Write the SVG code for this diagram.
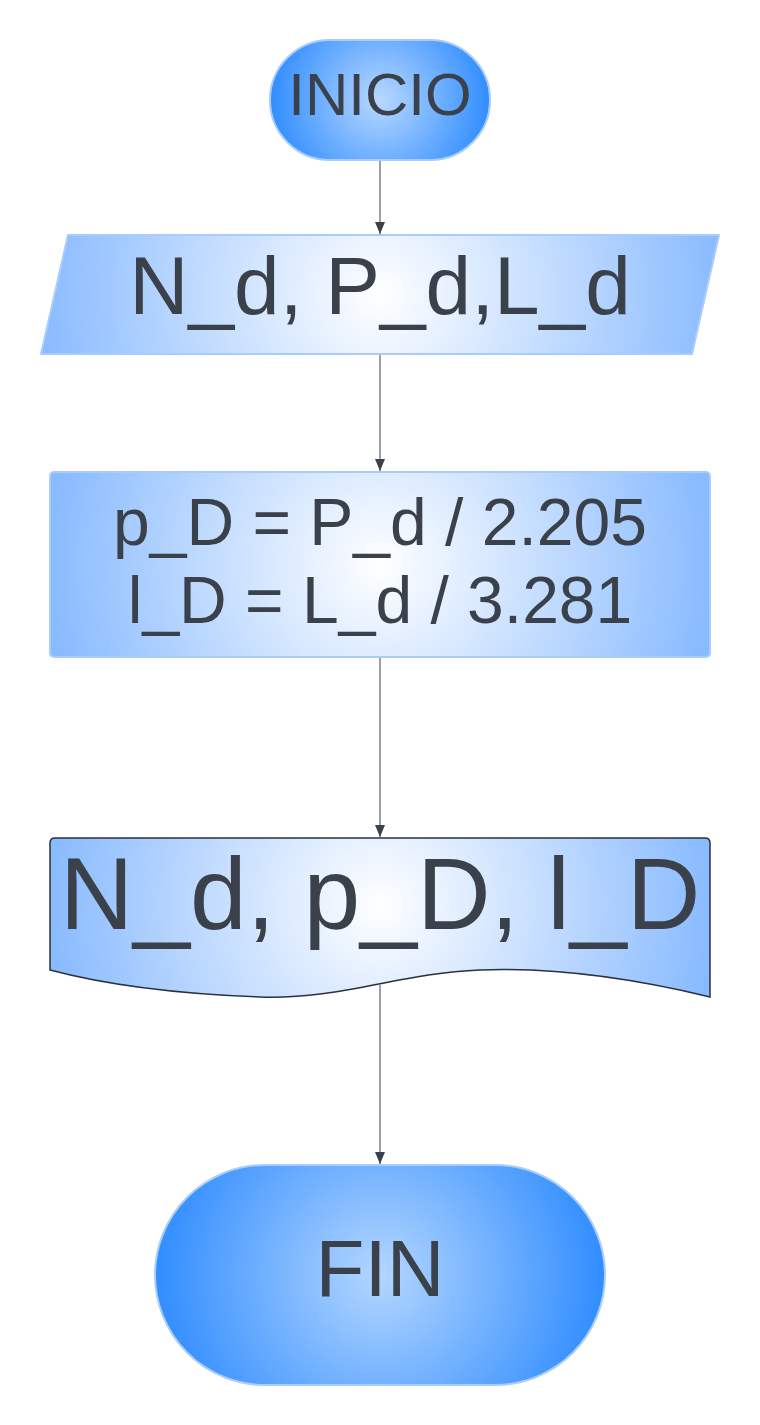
<svg xmlns="http://www.w3.org/2000/svg" width="760" height="1425" viewBox="0 0 760 1425">
<defs>
<radialGradient id="gInicio" gradientUnits="userSpaceOnUse" cx="380" cy="100" r="112">
<stop offset="0" stop-color="#b8d8ff"/>
<stop offset="1" stop-color="#2f8cff"/>
</radialGradient>
<radialGradient id="gFin" gradientUnits="userSpaceOnUse" cx="380" cy="1275" r="228">
<stop offset="0" stop-color="#b4d6ff"/>
<stop offset="1" stop-color="#2f8cff"/>
</radialGradient>
<radialGradient id="gIn" gradientUnits="userSpaceOnUse" cx="380" cy="295" r="345">
<stop offset="0" stop-color="#ffffff"/>
<stop offset="1" stop-color="#88baff"/>
</radialGradient>
<radialGradient id="gProc" gradientUnits="userSpaceOnUse" cx="380" cy="565" r="335">
<stop offset="0" stop-color="#ffffff"/>
<stop offset="1" stop-color="#88baff"/>
</radialGradient>
<radialGradient id="gDoc" gradientUnits="userSpaceOnUse" cx="380" cy="905" r="335">
<stop offset="0" stop-color="#ffffff"/>
<stop offset="1" stop-color="#88baff"/>
</radialGradient>
<marker id="arr" viewBox="0 0 12 10" refX="12" refY="5" markerWidth="12" markerHeight="10" markerUnits="userSpaceOnUse" orient="auto">
<path d="M0,0 L12,5 L0,10 Z" fill="#3a414a"/>
</marker>
<style>
.t{font-family:"Liberation Sans",Arial,sans-serif;fill:#3a414a;text-anchor:middle}
.lite{stroke:#a9ccff;stroke-width:2}
.con{stroke:#3a414a;stroke-width:1;fill:none}
</style>
</defs>
<g id="connectors">
<line class="con" x1="380" y1="161" x2="380" y2="234" marker-end="url(#arr)"/>
<line class="con" x1="380" y1="355" x2="380" y2="471" marker-end="url(#arr)"/>
<line class="con" x1="380" y1="658" x2="380" y2="837" marker-end="url(#arr)"/>
<line class="con" x1="380" y1="985" x2="380" y2="1164" marker-end="url(#arr)"/>
</g>
<g id="inicio">
<rect x="270" y="40" width="220" height="120" rx="60" fill="url(#gInicio)" class="lite"/>
<text class="t" x="380" y="115" font-size="60">INICIO</text>
</g>
<g id="entrada">
<path d="M68,235 L719,235 L692,354 L41,354 Z" fill="url(#gIn)" class="lite" stroke-linejoin="round"/>
<text class="t" x="380" y="314" font-size="82">N_d, P_d,L_d</text>
</g>
<g id="proceso">
<rect x="50" y="472" width="660" height="185" rx="4" fill="url(#gProc)" class="lite"/>
<text class="t" x="380" y="545" font-size="66">p_D = P_d / 2.205</text>
<text class="t" x="380" y="623" font-size="66">l_D = L_d / 3.281</text>
</g>
<g id="salida">
<path d="M50,843 Q50,838 55,838 L705,838 Q710,838 710,843 L710,997 C640,980 560,967 480,970 C400,973 340,1000 260,997 C180,994 110,986 50,970 Z" fill="url(#gDoc)" stroke="#2b313c" stroke-width="1.5"/>
<text class="t" x="380" y="929" font-size="102">N_d, p_D, l_D</text>
</g>
<g id="fin">
<rect x="155" y="1165" width="450" height="220" rx="110" fill="url(#gFin)" class="lite"/>
<text class="t" x="380" y="1296" font-size="80">FIN</text>
</g>
</svg>
